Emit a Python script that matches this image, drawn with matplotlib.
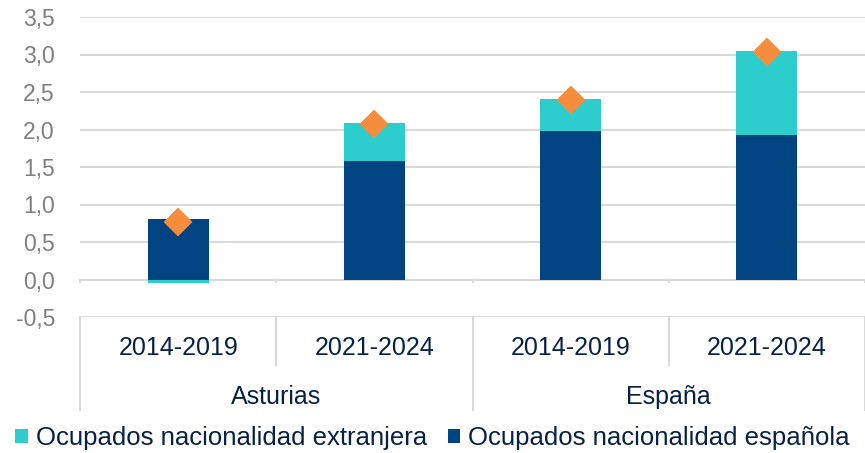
import matplotlib
matplotlib.use("Agg")
import matplotlib.pyplot as plt
import numpy as np

plt.rcParams['font.family'] = ['Liberation Sans', 'DejaVu Sans']

regions = ["Asturias", "España"]
periods = ["2014-2019", "2021-2024", "2014-2019", "2021-2024"]
espanola = [0.81, 1.58, 1.98, 1.93]
extranjera = [-0.04, 0.51, 0.43, 1.12]
total = [0.77, 2.08, 2.40, 3.04]
yticks = [-0.5, 0.0, 0.5, 1.0, 1.5, 2.0, 2.5, 3.0, 3.5]

C_ESP = "#004481"
C_EXT = "#2DCCCD"
C_TOT = "#F68D3C"
C_GRID = "#D9D9D9"
C_TXT = "#072146"
C_TICK = "#7F7F7F"

fig = plt.figure(figsize=(8.65, 4.53), dpi=100)
ax = fig.add_axes([80/865, 1-317/453, 785/865, 300/453])

x = np.arange(len(periods))
esp = np.array(espanola)
ext = np.array(extranjera)
w = 0.31
b_esp = ax.bar(x, esp, width=w, color=C_ESP, zorder=3, label="Ocupados nacionalidad española")
ext_bottom = np.where(ext < 0, 0, esp)
b_ext = ax.bar(x, ext, bottom=ext_bottom, width=w, color=C_EXT, zorder=3,
               label="Ocupados nacionalidad extranjera")
ax.plot(x, total, linestyle="none", marker="D", markersize=13, color=C_TOT,
        markeredgecolor=C_TOT, markeredgewidth=1.5, zorder=4)

ax.set_xlim(-0.5, len(periods) - 0.5)
ax.set_ylim(-0.5, 3.5)
ax.set_yticks(yticks)
ax.set_yticklabels([f"{v:.1f}".replace(".", ",") for v in yticks], fontsize=16.5, color=C_TICK)
ax.tick_params(axis="y", length=0, pad=18)
ax.set_xticks([])
for s in ax.spines.values():
    s.set_visible(False)
ax.grid(axis="y", color=C_GRID, linewidth=1.5, zorder=0)
ax.set_axisbelow(True)

# x axis line at zero with boundary ticks
ax.axhline(0, color=C_GRID, linewidth=1.5, zorder=2)
trans = ax.get_xaxis_transform()
for b in np.arange(-0.5, len(periods), 1.0):
    ax.plot([b, b], [0, -0.027], color=C_GRID, linewidth=1.5, zorder=2,
            transform=ax.transData, clip_on=False)

# category box below
for i, p in enumerate(periods):
    ax.text(i, -0.103, p, transform=trans, ha="center", va="center",
            fontsize=18, color=C_TXT)
for b in [0.5, 2.5]:
    ax.plot([b, b], [0, -0.16], transform=trans, color=C_GRID, linewidth=1.5, clip_on=False)
for b in [-0.5, 1.5, 3.5]:
    ax.plot([b, b], [0, -0.31], transform=trans, color=C_GRID, linewidth=1.5, clip_on=False)
for j, r in enumerate(regions):
    ax.text(2*j + 0.5, -0.267, r, transform=trans, ha="center", va="center",
            fontsize=18, color=C_TXT)

leg = fig.legend(handles=[b_ext, b_esp], loc="center", bbox_to_anchor=(0.5, 1-438/453),
                 ncol=2, frameon=False, fontsize=18.5, handlelength=0.5, handleheight=0.5,
                 handletextpad=0.3, columnspacing=0.8, borderaxespad=0, borderpad=0)
for t in leg.get_texts():
    t.set_color(C_TXT)

fig.savefig("out.png", dpi=100)
